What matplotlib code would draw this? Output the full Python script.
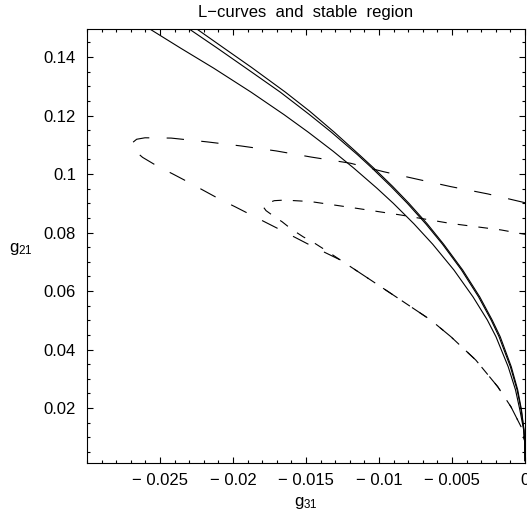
import matplotlib
matplotlib.use("Agg")
import matplotlib.pyplot as plt
from matplotlib.ticker import MultipleLocator

plt.rcParams['font.family'] = ['Liberation Sans', 'DejaVu Sans']
plt.rcParams['mathtext.fontset'] = 'custom'
plt.rcParams['mathtext.rm'] = 'Liberation Sans'
plt.rcParams['lines.scale_dashes'] = False

# --- solid L-curves (g31, g21), bottom -> top
a_y = [0.0020, 0.0080, 0.0125, 0.0193, 0.0262, 0.0341, 0.0444, 0.0501, 0.0580, 0.0672, 0.0760,
       0.0830, 0.0900, 0.0952, 0.1020, 0.1078, 0.1143, 0.1203, 0.1280, 0.1362, 0.1430, 0.1496]
a_x = [0.0, -0.00002, -0.00009, -0.00035, -0.00065, -0.00115, -0.00199, -0.00258, -0.00356, -0.00487,
       -0.00632, -0.00761, -0.00902, -0.01015, -0.01172, -0.01314, -0.01484, -0.0165, -0.01876,
       -0.02132, -0.02357, -0.0257]

b_y = [0.0020, 0.0080, 0.0125, 0.0193, 0.0262, 0.0341, 0.0444, 0.0501, 0.0580, 0.0672, 0.0760,
       0.0830, 0.0900, 0.0958, 0.1020, 0.1066, 0.1143, 0.1204, 0.1280, 0.1351, 0.1430, 0.1496]
b_x = [0.0, -0.00002, -0.00008, -0.00026, -0.00054, -0.001, -0.00178, -0.00232, -0.00318, -0.00435,
       -0.00565, -0.0068, -0.00806, -0.00919, -0.01047, -0.01147, -0.01326, -0.01478, -0.01676,
       -0.01879, -0.02106, -0.0230]

c_y = [0.0020, 0.0080, 0.0125, 0.0193, 0.0262, 0.0341, 0.0444, 0.0501, 0.0580, 0.0672, 0.0760,
       0.0830, 0.0900, 0.0958, 0.1020, 0.1066, 0.1143, 0.1215, 0.1280, 0.1365, 0.1430, 0.1496]
c_x = [0.0, -0.00002, -0.00007, -0.00024, -0.0005, -0.00094, -0.0017, -0.00225, -0.0031, -0.00427,
       -0.00557, -0.0067, -0.00795, -0.00907, -0.01035, -0.01135, -0.01306, -0.01475, -0.01641,
       -0.01874, -0.0206, -0.02248]

# --- stable-region boundaries: upper branch (from x=0) -> tip -> lower branch
long_x = [0.0, -0.00254, -0.00508, -0.00735, -0.00968, -0.01195, -0.01463, -0.01703,
          -0.01944, -0.02177, -0.02424, -0.02603, -0.0266, -0.02699, -0.02685,
          -0.02619, -0.02518, -0.02411, -0.02308, -0.02198, -0.02095, -0.01985,
          -0.01875, -0.01765, -0.01662, -0.01449, -0.01264]
long_y = [0.0902, 0.0932, 0.0957, 0.0982, 0.1008, 0.1037, 0.1058, 0.1079,
          0.1096, 0.1110, 0.1123, 0.1124, 0.1119, 0.1103, 0.1085,
          0.1057, 0.1027, 0.1000, 0.0973, 0.0943, 0.0915, 0.0888,
          0.0860, 0.0832, 0.0806, 0.0751, 0.0706]

short_x = [0.0, -0.00165, -0.00508, -0.00851, -0.01195, -0.0147, -0.01648, -0.01717,
           -0.01766, -0.0179, -0.01774, -0.0171, -0.01664, -0.01621, -0.01573,
           -0.01518, -0.01458, -0.01367, -0.01264]
short_y = [0.0794, 0.0809, 0.0831, 0.0860, 0.0886, 0.0906, 0.0911, 0.0909,
           0.0900, 0.0886, 0.0875, 0.0852, 0.0837, 0.0820, 0.0803,
           0.0785, 0.0769, 0.0740, 0.0706]

# shared lower tail of both dashed curves
tail_x = [-0.01058, -0.0085, -0.00646, -0.00508, -0.00337, -0.00187, -0.00096, -0.00027, 0.0]
tail_y = [0.0638, 0.0569, 0.0501, 0.0444, 0.0364, 0.0273, 0.0204, 0.0136, 0.0085]

xticks = [-0.025, -0.02, -0.015, -0.01, -0.005, 0.0]
xtick_labels = ["\u2212 0.025", "\u2212 0.02", "\u2212 0.015", "\u2212 0.01", "\u2212 0.005", "0"]
yticks = [0.02, 0.04, 0.06, 0.08, 0.1, 0.12, 0.14]
ytick_labels = ["0.02", "0.04", "0.06", "0.08", "0.1", "0.12", "0.14"]

fig = plt.figure(figsize=(5.27, 5.25), dpi=100)
ax = fig.add_axes([87 / 527, 62 / 525, 438 / 527, 434 / 525])

for xs, ys in [(a_x, a_y), (b_x, b_y), (c_x, c_y)]:
    ax.plot(xs, ys, color="black", lw=0.8)
ax.plot(long_x + tail_x, long_y + tail_y, color="black", lw=0.8,
        linestyle=(0, (12.5, 12.5)))
ax.plot(short_x + tail_x, short_y + tail_y, color="black", lw=0.8,
        linestyle=(3, (7, 8)))

ax.set_xlim(-0.030, 0.0)
ax.set_ylim(0.0012, 0.1496)
ax.set_xticks(xticks)
ax.set_xticklabels(xtick_labels)
ax.set_yticks(yticks)
ax.set_yticklabels(ytick_labels)
ax.xaxis.set_minor_locator(MultipleLocator(0.001))
ax.yaxis.set_minor_locator(MultipleLocator(0.005))
ax.tick_params(which="both", direction="in", top=True, right=True, labelsize=12, width=0.8)
ax.tick_params(which="major", length=4)
ax.tick_params(which="minor", length=2)
ax.tick_params(axis="x", pad=7)
ax.tick_params(axis="y", pad=8)
for s in ax.spines.values():
    s.set_linewidth(0.8)

fig.text(306 / 527, 1 - 12 / 525, "L\u2212curves  and  stable  region", ha="center", va="center", fontsize=12)
fig.text(306 / 527, 1 - 503 / 525, r"$\mathregular{g_{31}}$", ha="center", va="center", fontsize=12)
fig.text(21 / 527, 1 - 249 / 525, r"$\mathregular{g_{21}}$", ha="center", va="center", fontsize=12)

fig.savefig("out.png", dpi=100)
